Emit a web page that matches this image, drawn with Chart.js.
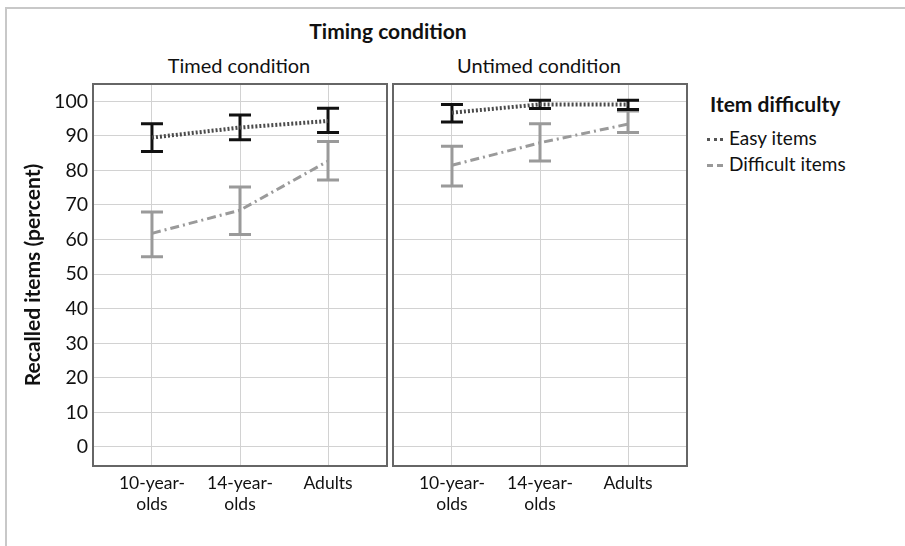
<!DOCTYPE html>
<html><head><meta charset="utf-8">
<script src="https://cdn.jsdelivr.net/npm/chart.js@4"></script>
<style>
body{margin:0;background:#fff;width:905px;height:546px;overflow:hidden;position:relative;font-family:Lato,"Open Sans",sans-serif;color:#111}
#frame{position:absolute;left:5px;top:7px;width:1000px;height:600px;border-left:2px solid #c8c8c8;border-top:2px solid #c8c8c8}
.t{position:absolute;white-space:nowrap;transform:translate(-50%,-50%)}
.lg{position:absolute;white-space:nowrap}
canvas{position:absolute;top:0}
.sw{display:inline-block;width:16px;vertical-align:middle;margin-right:6px;position:relative;top:-1px}
</style></head><body>
<div id="frame"></div>
<div class="t" style="left:388px;top:30px;font-weight:bold;font-size:21px">Timing condition</div>
<div class="t" style="left:239px;top:65px;font-size:20px">Timed condition</div>
<div class="t" style="left:539px;top:65px;font-size:20px">Untimed condition</div>
<div class="lg" style="left:710px;top:91px;font-weight:bold;font-size:21px">Item difficulty</div>
<div class="lg" style="left:707px;top:126px;font-size:19px"><span class="sw" style="border-top:3px dotted #555"></span>Easy items</div>
<div class="lg" style="left:707px;top:152px;font-size:19px"><span class="sw" style="border-top:3px dashed #999"></span>Difficult items</div>
<canvas id="ca" width="390" height="546" style="left:0"></canvas>
<canvas id="cb" width="300" height="546" style="left:390px"></canvas>
<script>
const categories = [["10-year-","olds"],["14-year-","olds"],["Adults"]];
const yTickValues = [0,10,20,30,40,50,60,70,80,90,100];
const seriesNames = ["Easy items","Difficult items"];

const timedEasy      = [89.5, 92.4, 94.3];
const timedEasyLow   = [85.5, 88.9, 91.0];
const timedEasyHigh  = [93.5, 96.0, 98.0];
const timedDiff      = [61.8, 68.5, 82.7];
const timedDiffLow   = [55.0, 61.5, 77.2];
const timedDiffHigh  = [68.0, 75.2, 88.4];

const untimedEasy     = [96.7, 99.1, 99.1];
const untimedEasyLow  = [94.0, 97.9, 97.6];
const untimedEasyHigh = [99.1, 100.3, 100.3];
const untimedDiff     = [81.5, 88.0, 93.4];
const untimedDiffLow  = [75.5, 82.7, 91.0];
const untimedDiffHigh = [87.0, 93.5, 97.2];

const FONT = 'Lato, "Open Sans", sans-serif';

const errorBars = {
  id:'errorBars',
  beforeDatasetsDraw(chart){
    const {ctx, scales:{x,y}} = chart;
    const ds = chart.data.datasets.slice().reverse();
    ds.forEach(d=>{
      ctx.save();
      ctx.strokeStyle = d.errColor; ctx.lineWidth = 3; ctx.setLineDash([]);
      d.low.forEach((lo,i)=>{
        const px = x.getPixelForValue(i);
        const y1 = y.getPixelForValue(lo), y2 = y.getPixelForValue(d.high[i]);
        ctx.beginPath();
        ctx.moveTo(px,y1); ctx.lineTo(px,y2);
        ctx.moveTo(px-11,y1); ctx.lineTo(px+11,y1);
        ctx.moveTo(px-11,y2); ctx.lineTo(px+11,y2);
        ctx.stroke();
      });
      ctx.restore();
    });
  }
};
const panelBorder = {
  id:'panelBorder',
  afterDraw(chart){
    const {ctx, chartArea:a} = chart;
    ctx.save(); ctx.strokeStyle='#666'; ctx.lineWidth=2;
    ctx.strokeRect(a.left, a.top, a.right-a.left, a.bottom-a.top);
    ctx.restore();
  }
};

function pts(arr){ return arr.map((v,i)=>({x:i,y:v})); }

function makeChart(id, easy, eLo, eHi, diff, dLo, dHi, showY, pad){
  return new Chart(document.getElementById(id), {
    type:'line',
    data:{datasets:[
      {label:seriesNames[0], data:pts(easy), low:eLo, high:eHi, errColor:'#111',
       borderColor:'#4a4a4a', borderWidth:4, borderDash:[2,2], pointRadius:0, fill:false, tension:0},
      {label:seriesNames[1], data:pts(diff), low:dLo, high:dHi, errColor:'#9a9a9a',
       borderColor:'#9a9a9a', borderWidth:3, borderDash:[9,4,2,4], pointRadius:0, fill:false, tension:0}
    ]},
    options:{
      responsive:false, animation:false, devicePixelRatio:1,
      layout:{padding:pad},
      plugins:{legend:{display:false}, tooltip:{enabled:false}},
      scales:{
        x:{type:'linear', min:-0.67, max:2.67,
           afterBuildTicks:s=>{s.ticks = categories.map((c,i)=>({value:i}));},
           afterFit:s=>{s.height = 80;},
           grid:{color:'#d2d2d2', drawTicks:false}, border:{display:false},
           ticks:{padding:7, color:'#111', font:{family:FONT, size:17.5}, maxRotation:0, autoSkip:false,
                  callback:(v)=>categories[v]}},
        y:{min:-5.5, max:105,
           afterBuildTicks:s=>{s.ticks = yTickValues.map(v=>({value:v}));},
           afterFit:s=>{s.width = showY ? 93 : 0;},
           grid:{color:'#d2d2d2', drawTicks:false}, border:{display:false},
           title:{display:showY, text:'Recalled items (percent)', color:'#111',
                  font:{family:FONT, size:21, weight:'bold'}, padding:{top:21,bottom:0}},
           ticks:{display:showY, padding:5, color:'#111', font:{family:FONT, size:19.5}}}
      }
    },
    plugins:[errorBars, panelBorder]
  });
}
makeChart('ca', timedEasy, timedEasyLow, timedEasyHigh, timedDiff, timedDiffLow, timedDiffHigh, true, {top:84,right:3,left:0,bottom:0});
makeChart('cb', untimedEasy, untimedEasyLow, untimedEasyHigh, untimedDiff, untimedDiffLow, untimedDiffHigh, false, {top:84,right:3,left:3,bottom:0});
</script>
</body></html>
